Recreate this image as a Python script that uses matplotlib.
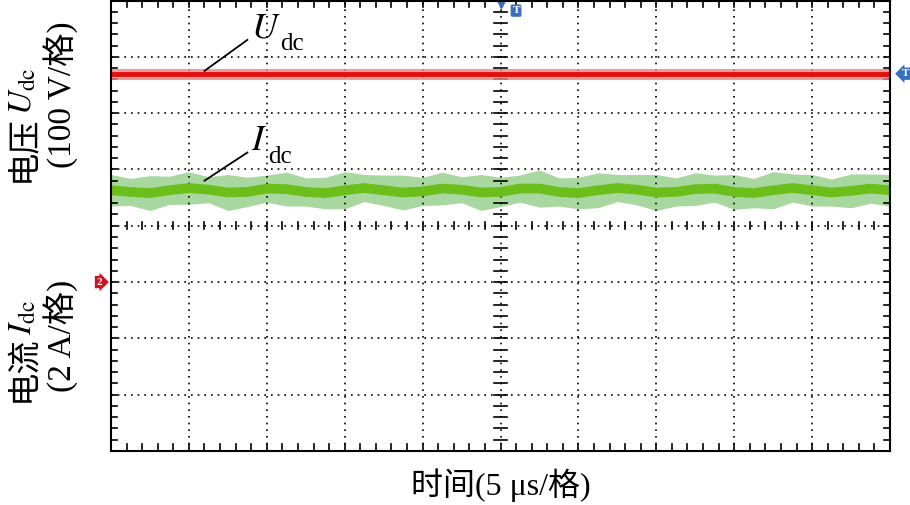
import matplotlib
matplotlib.use("Agg")
import matplotlib.pyplot as plt
import numpy as np

# data (in divisions; 10 x 8 grid)
t_udc = [0, 10]
udc = [6.70, 6.70]
# Idc centre trace read at 0.25-division steps
t_idc = [i*0.25 for i in range(41)]
idc = [4.63,4.60,4.58,4.63,4.67,4.64,4.59,4.60,4.66,4.65,4.60,4.58,4.63,4.67,4.63,4.59,4.61,4.66,4.64,4.59,
       4.60,4.66,4.66,4.60,4.58,4.63,4.67,4.64,4.59,4.60,4.65,4.66,4.60,4.58,4.63,4.67,4.63,4.59,4.62,4.66,4.63]
# noise envelope half-widths (div) read at the same points
idc_noise = [0.28,0.24,0.31,0.25,0.29,0.23,0.32,0.26,0.24,0.30,0.25,0.28,0.33,0.24,0.27,0.31,0.25,0.29,0.23,0.32,
             0.26,0.24,0.33,0.25,0.28,0.31,0.24,0.27,0.32,0.25,0.29,0.24,0.31,0.26,0.33,0.25,0.28,0.24,0.30,0.26,0.28]

plt.rcParams['font.family'] = ['Liberation Serif', 'Noto Sans CJK SC']
plt.rcParams['mathtext.fontset'] = 'stix'
fig = plt.figure(figsize=(9.1, 5.05), dpi=100)
ax = fig.add_axes([0.122, 0.107, 0.856, 0.892])
ax.set_xlim(0, 10); ax.set_ylim(0, 8)

for x in range(1, 10):
    ax.axvline(x, color='black', lw=1.2, ls=(0, (1, 3)))
for y in range(1, 8):
    ax.axhline(y, color='black', lw=1.2, ls=(0, (1, 3)))
for k in np.arange(0, 10.01, 0.2):
    ax.plot([k, k], [3.94, 4.06], color='black', lw=1.2)
for k in np.arange(0, 8.01, 0.2):
    ax.plot([4.92, 5.08], [k, k], color='black', lw=1.2)
for k in np.arange(0, 10.01, 0.2):
    ax.plot([k, k], [8, 7.88], color='black', lw=1.2)
    ax.plot([k, k], [0, 0.12], color='black', lw=1.2)
for k in np.arange(0, 8.01, 0.2):
    ax.plot([0, 0.08], [k, k], color='black', lw=1.2)
    ax.plot([10, 9.92], [k, k], color='black', lw=1.2)

ax.set_xticks([]); ax.set_yticks([])
for s in ax.spines.values():
    s.set_linewidth(1.5)

ax.plot(t_udc, udc, color='#f08080', lw=8, alpha=0.8)
ax.plot(t_udc, udc, color='#e01010', lw=3.5)
lo = [c - n for c, n in zip(idc, idc_noise)]
hi = [c + n for c, n in zip(idc, idc_noise)]
ax.fill_between(t_idc, lo, hi, color='#a8d8a0', lw=0)
ax.plot(t_idc, idc, color='#6cbf1a', lw=7)

ax.plot([1.2, 1.75], [6.75, 7.3], color='black', lw=1.3)
ax.text(1.8, 7.2, r'$U$', fontsize=26, va='bottom', ha='left')
ax.text(2.17, 7.22, 'dc', fontsize=18, va='center', ha='left')
ax.plot([1.2, 1.75], [4.8, 5.3], color='black', lw=1.3)
ax.text(1.8, 5.2, r'$I$', fontsize=26, va='bottom', ha='left')
ax.text(2.02, 5.22, 'dc', fontsize=18, va='center', ha='left')

# markers
ax.plot([5.0], [7.97], marker='v', color='#3a6fc0', ms=9, clip_on=False)
ax.text(5.2, 7.82, 'T', fontsize=8, color='white', ha='center', va='center', weight='bold',
        bbox=dict(boxstyle='round,pad=0.15', fc='#3a6fc0', ec='none'))
ax.text(10.2, 6.7, 'T', fontsize=8, color='white', ha='center', va='center', weight='bold',
        bbox=dict(boxstyle='larrow,pad=0.15', fc='#3a6fc0', ec='none'), clip_on=False)
ax.text(-0.15, 3.0, '2', fontsize=8, color='white', ha='center', va='center', weight='bold',
        bbox=dict(boxstyle='rarrow,pad=0.15', fc='#d01020', ec='none'), clip_on=False)

r = fig.canvas.get_renderer()
def vlabel(x, ybot, parts):
    y = ybot
    for s, fs in parts:
        t = fig.text(x, y, s, rotation=90, fontsize=fs, ha='center', va='bottom')
        bb = t.get_window_extent(r)
        y += bb.height / fig.bbox.height

vlabel(0.026, 1 - 182/505, [('电压', 24), (r'$U_{\mathrm{dc}}$', 24)])
vlabel(0.066, 1 - 168/505, [('(100 V/格)', 24)])
vlabel(0.026, 1 - 402/505, [('电流', 24), (r'$I_{\mathrm{dc}}$', 24)])
vlabel(0.066, 1 - 392/505, [('(2 A/格)', 24)])
fig.text(0.55, 0.04, '时间(5 μs/格)', fontsize=23, ha='center', va='center')

fig.savefig('out.png', dpi=100)
